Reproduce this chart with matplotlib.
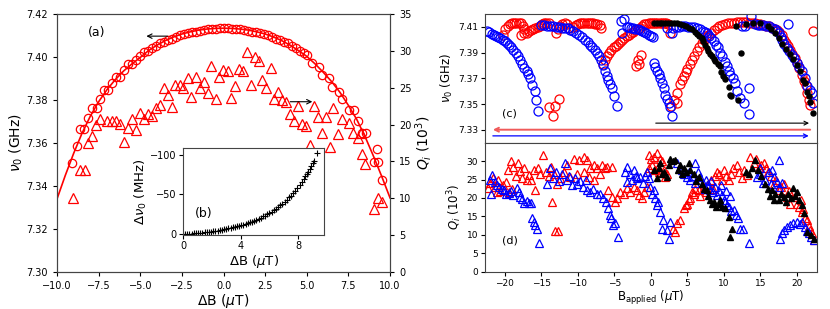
import numpy as np
import matplotlib
matplotlib.use('Agg')
import matplotlib.pyplot as plt

# ---- (a) resonance frequency (GHz) and Qi (10^3) vs delta B ----
a_circles = [(-9.08, 7.3506), (-8.82, 7.3586), (-8.62, 7.3664), (-8.36, 7.3664), (-8.12, 7.3718),
             (-7.88, 7.3764), (-7.62, 7.3764), (-7.42, 7.3805), (-7.18, 7.3847), (-6.96, 7.3847),
             (-6.72, 7.3880), (-6.48, 7.3908), (-6.22, 7.3908), (-5.98, 7.3940), (-5.76, 7.3966),
             (-5.52, 7.3966), (-5.27, 7.3986), (-5.01, 7.4005), (-4.76, 7.4025), (-4.52, 7.4030),
             (-4.28, 7.4044), (-4.04, 7.4050), (-3.80, 7.4063), (-3.56, 7.4070), (-3.32, 7.4080),
             (-3.08, 7.4086), (-2.84, 7.4092), (-2.60, 7.4100), (-2.36, 7.4105), (-2.12, 7.4110),
             (-1.88, 7.4115), (-1.64, 7.4118), (-1.40, 7.4122), (-1.16, 7.4126), (-0.92, 7.4128),
             (-0.68, 7.4130), (-0.44, 7.4132), (-0.20, 7.4133), (0.04, 7.4133), (0.28, 7.4133),
             (0.52, 7.4132), (0.76, 7.4130), (1.00, 7.4128), (1.24, 7.4126), (1.48, 7.4122),
             (1.72, 7.4118), (1.96, 7.4115), (2.20, 7.4110), (2.44, 7.4105), (2.68, 7.4100),
             (2.92, 7.4092), (3.16, 7.4086), (3.40, 7.4080), (3.64, 7.4070), (3.88, 7.4063),
             (4.12, 7.4050), (4.36, 7.4044), (4.60, 7.4030), (4.84, 7.4018), (5.02, 7.4009),
             (5.32, 7.3971), (5.72, 7.3955), (5.92, 7.3916), (6.36, 7.3901), (6.52, 7.3862),
             (6.92, 7.3839), (7.12, 7.3803), (7.52, 7.3753), (7.82, 7.3753), (8.08, 7.3704),
             (8.32, 7.3645), (8.56, 7.3645), (9.02, 7.3513), (9.22, 7.3571), (9.28, 7.3513),
             (9.52, 7.3428)]

a_fit_b = [-10, -9.5, -9, -8.5, -8, -7.5, -7, -6.5, -6, -5.5, -5, -4.5, -4, -3.5, -3, -2.5, -2,
           -1.5, -1, -0.5, 0, 0.5, 1, 1.5, 2, 2.5, 3, 3.5, 4, 4.5, 5, 5.5, 6, 6.5, 7, 7.5, 8,
           8.5, 9, 9.5, 10]
a_fit_nu = [7.3340, 7.3450, 7.3552, 7.3645, 7.3725, 7.3792, 7.3848, 7.3895, 7.3935, 7.3968,
            7.3998, 7.4030, 7.4055, 7.4076, 7.4093, 7.4107, 7.4117, 7.4125, 7.4130, 7.4133,
            7.4134, 7.4133, 7.4130, 7.4125, 7.4117, 7.4107, 7.4093, 7.4076, 7.4055, 7.4030,
            7.4003, 7.3968, 7.3928, 7.3885, 7.3835, 7.3775, 7.3710, 7.3630, 7.3540, 7.3445,
            7.3345]

a_triangles = [(-9.06, 10.05), (-8.64, 13.8), (-8.34, 13.8), (-8.14, 17.5), (-7.9, 18.4),
               (-7.64, 20.0), (-7.4, 20.7), (-7.0, 20.5), (-6.7, 20.5), (-6.44, 20.5),
               (-6.24, 20.1), (-5.96, 17.7), (-5.74, 19.6), (-5.5, 20.7), (-5.26, 19.2),
               (-5.0, 21.6), (-4.76, 20.7), (-4.54, 21.4), (-4.3, 21.1), (-4.06, 22.2),
               (-3.84, 22.6), (-3.6, 24.9), (-3.36, 24.0), (-3.1, 22.4), (-2.9, 25.4),
               (-2.64, 25.4), (-2.44, 24.9), (-2.16, 26.3), (-1.94, 23.8), (-1.66, 26.4),
               (-1.44, 24.9), (-1.2, 25.8), (-0.96, 24.3), (-0.76, 27.9), (-0.46, 23.5),
               (-0.26, 26.5), (-0.04, 27.4), (0.24, 27.3), (0.44, 23.6), (0.7, 25.2),
               (0.9, 27.6), (1.16, 27.2), (1.4, 29.8), (1.64, 25.4), (1.9, 29.1), (2.14, 28.6),
               (2.34, 26.0), (2.56, 24.9), (2.84, 27.7), (3.04, 23.5), (3.3, 24.4), (3.54, 23.3),
               (3.76, 23.0), (4.0, 21.4), (4.26, 20.5), (4.5, 22.5), (4.74, 20.1), (4.96, 19.8),
               (5.2, 17.2), (5.44, 22.5), (5.7, 21.0), (5.94, 18.8), (6.14, 21.0), (6.4, 17.0),
               (6.6, 22.2), (6.86, 18.7), (7.1, 20.7), (7.56, 20.2), (7.8, 18.8), (8.06, 18.2),
               (8.24, 18.9), (8.3, 16.0), (8.5, 14.6), (9.04, 8.5), (9.26, 10.1), (9.5, 9.5)]

# ---- (b) inset: frequency shift (MHz) vs |delta B|, two field branches ----
b_db = [0.0, 0.3, 0.6, 0.9, 1.2, 1.5, 1.8, 2.1, 2.4, 2.7, 3.0, 3.3, 3.6, 3.9, 4.2, 4.5, 4.8,
        5.1, 5.4, 5.7, 6.0, 6.3, 6.6, 6.9, 7.2, 7.5, 7.8, 8.1, 8.4, 8.6, 8.8, 8.9, 9.05, 9.1, 9.3]
b_dnu = [0, -0.1, -0.3, -0.7, -1.1, -1.7, -2.4, -3.2, -4.1, -5.1, -6.2, -7.4, -8.7, -10.1,
         -11.7, -13.5, -15.5, -17.7, -20.3, -23.1, -26.2, -29.7, -33.6, -38.0, -43.0, -48.5,
         -54.5, -61.5, -70.0, -76.0, -82.0, -86.0, -90.0, -93.0, -102.0]
b_db2 = [0.15, 0.45, 0.75, 1.05, 1.35, 1.65, 1.95, 2.25, 2.55, 2.85, 3.15, 3.45, 3.75, 4.05,
         4.35, 4.65, 4.95, 5.25, 5.55, 5.85, 6.15, 6.45, 6.75, 7.05, 7.35, 7.65, 7.95, 8.25,
         8.5, 8.7]
b_dnu2 = [0.0, -0.2, -0.5, -0.9, -1.4, -2.0, -2.8, -3.7, -4.7, -5.8, -7.0, -8.3, -9.7, -11.2,
          -12.9, -14.8, -16.9, -19.3, -22.0, -25.0, -28.3, -32.0, -36.2, -41.0, -46.2, -52.0,
          -58.5, -66.0, -73.0, -79.0]

# ---- (c) resonance frequency vs applied field, three sweeps ----
c_red = [(-20.2, 7.404), (-19.9, 7.408), (-19.6, 7.4105), (-19.3, 7.412), (-19.0, 7.413),
         (-18.7, 7.4132), (-18.4, 7.4132), (-18.1, 7.4131), (-17.8, 7.413), (-17.5, 7.411),
         (-17.4, 7.408),
         (-17.8, 7.4035), (-17.4, 7.405), (-17.0, 7.4055), (-16.7, 7.4065), (-16.4, 7.4075),
         (-16.1, 7.4085), (-15.8, 7.409), (-15.5, 7.41), (-15.2, 7.411), (-14.9, 7.412),
         (-14.6, 7.4128), (-14.3, 7.4131), (-14.0, 7.413),
         (-13.0, 7.405), (-12.7, 7.408), (-12.4, 7.411), (-12.1, 7.4125), (-11.8, 7.413),
         (-11.5, 7.4125), (-11.2, 7.4095),
         (-10.6, 7.410), (-10.3, 7.4115), (-10.0, 7.4125), (-9.7, 7.413), (-9.4, 7.4131),
         (-9.1, 7.4131), (-8.8, 7.4131), (-8.5, 7.4131), (-8.2, 7.413), (-7.9, 7.4128),
         (-7.6, 7.4125), (-7.3, 7.412), (-7.0, 7.4115), (-6.8, 7.409),
         (-6.5, 7.3808), (-6.3, 7.3845), (-6.0, 7.387), (-5.7, 7.390), (-5.4, 7.392),
         (-5.1, 7.394), (-4.8, 7.3955), (-4.5, 7.397), (-4.2, 7.3985), (-3.9, 7.400),
         (-3.6, 7.4015), (-3.3, 7.403), (-3.0, 7.404), (-2.7, 7.405), (-2.4, 7.406),
         (-2.1, 7.4075), (-1.8, 7.4085), (-1.5, 7.4095), (-1.2, 7.411), (-0.9, 7.412),
         (-0.6, 7.4125), (-0.3, 7.413), (0.0, 7.4131),
         (0.3, 7.4132), (0.6, 7.4132), (0.9, 7.4132), (1.2, 7.4132), (1.5, 7.4131),
         (1.8, 7.413), (2.1, 7.4128), (2.4, 7.4125), (2.67, 7.4053),
         (-2.0, 7.3795), (-1.75, 7.3845), (-1.55, 7.381), (-1.35, 7.3885),
         (-14.0, 7.348), (-13.4, 7.3405), (-13.1, 7.3488), (-12.6, 7.354),
         (2.75, 7.3487), (3.2, 7.3528), (3.55, 7.3508), (3.6, 7.3586), (4.0, 7.3658),
         (4.3, 7.369), (4.5, 7.3715), (4.8, 7.375), (5.0, 7.3773), (5.3, 7.381), (5.6, 7.384),
         (5.9, 7.387), (6.3, 7.391), (6.6, 7.394), (7.0, 7.3975), (7.3, 7.400), (7.6, 7.402),
         (7.9, 7.404), (8.2, 7.4055), (8.6, 7.4075), (9.0, 7.4092), (9.4, 7.4105),
         (9.8, 7.4115), (10.2, 7.4122), (10.6, 7.4127), (11.0, 7.413), (11.4, 7.4133),
         (11.8, 7.4135), (12.2, 7.4136), (12.6, 7.4135), (13.0, 7.4134), (13.4, 7.4132),
         (13.8, 7.413), (14.2, 7.4128), (14.6, 7.4125), (15.0, 7.412),
         (15.4, 7.4115), (15.8, 7.411), (16.2, 7.4105), (16.6, 7.4095), (17.0, 7.4085),
         (17.3, 7.4075), (17.6, 7.406), (17.9, 7.404), (18.2, 7.400), (18.5, 7.3975),
         (18.8, 7.395), (19.1, 7.392), (19.4, 7.389), (19.7, 7.3855), (20.0, 7.382),
         (20.3, 7.378), (20.7, 7.3728), (21.0, 7.368), (21.2, 7.365), (21.4, 7.3586),
         (21.6, 7.3534), (21.75, 7.3495), (22.27, 7.4066)]

c_blue = [(-22.45, 7.4066), (-22.1, 7.4058), (-21.8, 7.4048), (-21.5, 7.404), (-21.2, 7.403),
          (-20.9, 7.4022), (-20.6, 7.4014), (-20.3, 7.400), (-20.0, 7.399), (-19.7, 7.3975),
          (-19.4, 7.396), (-19.1, 7.394), (-18.8, 7.392), (-18.5, 7.3898), (-18.2, 7.3875),
          (-17.9, 7.3845), (-17.6, 7.381), (-17.3, 7.378), (-17.0, 7.3755), (-16.75, 7.373),
          (-16.5, 7.3703), (-16.2, 7.3651), (-15.9, 7.3599), (-15.7, 7.3528), (-15.5, 7.345),
          (-15.0, 7.4118), (-14.6, 7.4112), (-14.2, 7.4108), (-13.8, 7.4106), (-13.4, 7.4104),
          (-13.0, 7.410), (-12.6, 7.4098), (-12.2, 7.4095), (-11.8, 7.4092), (-11.4, 7.409),
          (-11.0, 7.4075), (-10.6, 7.4065), (-10.2, 7.4053), (-9.8, 7.4035), (-9.4, 7.402),
          (-9.0, 7.400), (-8.6, 7.398), (-8.3, 7.3962), (-8.0, 7.394), (-7.7, 7.392),
          (-7.4, 7.3897), (-7.1, 7.387), (-6.8, 7.384), (-6.55, 7.380), (-6.3, 7.3755),
          (-6.05, 7.372), (-5.8, 7.369), (-5.55, 7.3655), (-5.35, 7.3625), (-5.05, 7.3559),
          (-4.6, 7.3487),
          (-4.1, 7.4144), (-3.7, 7.4160), (-4.0, 7.405), (-3.3, 7.410), (-3.0, 7.4098),
          (-2.7, 7.4095), (-2.4, 7.409), (-2.1, 7.4085), (-1.8, 7.408), (-1.5, 7.4075),
          (-1.2, 7.407), (-0.9, 7.406), (-0.6, 7.405), (-0.3, 7.404), (0.0, 7.403),
          (0.3, 7.4025),
          (0.38, 7.382), (0.6, 7.3788), (0.85, 7.3755), (1.1, 7.373), (1.3, 7.3703),
          (1.55, 7.366), (1.75, 7.3625), (1.98, 7.3573), (2.2, 7.354), (2.44, 7.3508),
          (2.65, 7.348), (2.9, 7.341), (2.2, 7.409), (2.9, 7.4053),
          (3.1, 7.4092), (3.5, 7.4098), (3.9, 7.4102), (4.3, 7.4105), (4.7, 7.4105),
          (5.1, 7.4102), (5.5, 7.410), (5.9, 7.4096), (6.3, 7.4092), (6.7, 7.408),
          (7.1, 7.407), (7.4, 7.406), (7.7, 7.4053), (8.0, 7.403), (8.3, 7.401),
          (8.6, 7.3988), (8.9, 7.396), (9.2, 7.394), (9.5, 7.390), (9.75, 7.3871),
          (10.1, 7.383), (10.4, 7.3793), (10.65, 7.376), (10.9, 7.3728), (11.2, 7.370),
          (11.55, 7.3664), (11.85, 7.3599), (12.2, 7.3547), (12.7, 7.3508),
          (13.5, 7.3625), (13.4, 7.3425), (12.5, 7.4105), (12.95, 7.4105), (13.7, 7.4183),
          (14.3, 7.412), (14.7, 7.4118), (15.0, 7.4115), (15.4, 7.4112), (15.8, 7.4108),
          (16.2, 7.4105), (16.6, 7.4095), (17.0, 7.408), (17.3, 7.4065), (17.5, 7.4053),
          (17.8, 7.4025), (18.0, 7.4001), (18.3, 7.397), (18.6, 7.3936), (18.9, 7.391),
          (19.3, 7.3884), (19.6, 7.3855), (20.0, 7.382), (20.35, 7.379), (20.7, 7.3755),
          (21.1, 7.3703), (21.45, 7.3638), (21.75, 7.361), (22.05, 7.3586), (22.27, 7.3508),
          (18.85, 7.4122)]

c_black = [(0.4, 7.4128), (0.8, 7.413), (1.2, 7.4131), (1.6, 7.4132), (2.0, 7.4132),
           (2.4, 7.4132), (2.8, 7.4131), (3.2, 7.4131), (3.6, 7.413), (4.0, 7.4125),
           (4.4, 7.4118), (4.8, 7.4108), (5.2, 7.4095), (5.6, 7.408), (6.0, 7.406),
           (6.3, 7.4045), (6.6, 7.403), (7.0, 7.4014), (7.2, 7.399), (7.45, 7.3962),
           (7.7, 7.3935), (7.9, 7.391), (8.15, 7.389), (8.4, 7.3871), (8.6, 7.385),
           (8.82, 7.3832), (9.2, 7.381), (9.5, 7.3793), (9.64, 7.3747), (9.9, 7.372),
           (10.2, 7.3695), (10.65, 7.3633), (10.88, 7.3573), (11.0, 7.356), (12.0, 7.3534),
           (12.3, 7.3897), (11.6, 7.4105), (13.0, 7.4125), (14.0, 7.4132), (15.0, 7.413),
           (16.0, 7.411), (16.5, 7.408), (17.0, 7.405), (17.5, 7.401), (18.0, 7.397),
           (18.5, 7.393), (19.0, 7.389), (19.5, 7.385), (20.0, 7.3805), (20.45, 7.3754),
           (20.9, 7.369), (21.1, 7.366), (21.36, 7.3592), (21.6, 7.356), (21.8, 7.352),
           (22.27, 7.343)]

# ---- (d) Qi (10^3) vs applied field ----
d_red = [(-22.3, 22.6), (-22.0, 24.0), (-21.6, 25.3), (-21.3, 23.0), (-20.9, 24.8), (-20.6, 22.0),
         (-20.2, 23.6), (-19.8, 24.4), (-19.4, 21.5), (-21.0, 21.5), (-19.0, 22.5),
         (-19.5, 27.5), (-19.2, 30.0), (-18.8, 28.5), (-18.5, 26.0), (-18.2, 29.6), (-17.9, 27.3),
         (-17.6, 25.5), (-17.3, 28.2), (-17.0, 24.8), (-16.7, 26.2), (-16.4, 25.0), (-16.0, 27.5),
         (-15.85, 22.1), (-15.5, 28.0), (-15.2, 26.5), (-14.7, 31.6), (-14.4, 27.0), (-14.0, 26.0),
         (-13.6, 28.5), (-13.5, 19.0), (-13.3, 26.6), (-12.8, 23.9), (-12.4, 25.3), (-11.9, 27.1),
         (-11.47, 28.9), (-11.0, 25.7), (-10.56, 30.7), (-10.1, 26.6), (-9.87, 30.3), (-9.2, 31.2),
         (-9.2, 27.1), (-8.73, 30.3), (-8.5, 25.7), (-8.28, 28.0), (-7.8, 28.9), (-7.8, 24.8),
         (-7.37, 28.0), (-6.9, 26.6), (-6.68, 28.9), (-6.2, 28.0), (-6.0, 28.5), (-5.3, 28.5),
         (-13.1, 11.1), (-12.65, 11.1),
         (-5.8, 22.1), (-5.3, 20.3), (-4.86, 19.0), (-4.6, 19.9), (-4.17, 21.7), (-3.7, 21.2),
         (-3.26, 22.6), (-2.8, 21.7), (-2.35, 23.0), (-1.9, 22.1), (-1.66, 20.8), (-1.2, 19.9),
         (-0.98, 21.7), (-0.5, 23.0),
         (-0.3, 31.6), (0.0, 30.5), (0.4, 31.2), (0.85, 32.1), (1.3, 30.7), (-0.2, 28.0),
         (0.2, 29.0), (0.6, 27.5), (1.0, 28.5), (1.4, 27.0), (1.76, 27.6), (2.0, 25.7),
         (1.6, 30.0), (-0.5, 27.0), (2.2, 26.6), (1.07, 27.1),
         (3.1, 11.7), (3.35, 10.8), (3.58, 13.1), (4.04, 14.0),
         (4.5, 17.2), (4.8, 18.0), (4.95, 18.5), (5.2, 19.5), (5.4, 19.9), (5.6, 21.5),
         (5.86, 21.2), (6.1, 22.5), (6.55, 22.1), (6.8, 20.5), (7.23, 23.0), (7.5, 21.5),
         (7.9, 23.9), (8.2, 25.0), (8.5, 22.5), (8.8, 26.0), (9.05, 27.1), (9.4, 26.5),
         (9.7, 25.0), (10.0, 27.5), (10.3, 26.0), (10.65, 24.8), (11.0, 26.5), (11.3, 28.0),
         (11.8, 28.9), (12.1, 27.0), (12.5, 25.5), (12.8, 27.5), (13.2, 26.2),
         (13.6, 31.2), (14.07, 29.4), (14.4, 30.5), (14.75, 28.0), (15.1, 29.0), (15.44, 29.4),
         (15.8, 28.0), (16.1, 27.0), (16.4, 26.0),
         (16.8, 23.9), (17.2, 25.0), (17.5, 22.1), (17.8, 23.0), (18.2, 23.9), (18.6, 20.3),
         (18.9, 22.0), (19.1, 18.5), (19.5, 21.5), (19.8, 20.3), (20.0, 18.5), (20.3, 17.6),
         (20.5, 19.5), (20.7, 16.3), (20.9, 17.0), (21.05, 14.5), (21.4, 14.0), (21.6, 12.5),
         (21.8, 11.3), (22.1, 10.4), (22.3, 8.6)]

d_blue = [(-22.0, 24.8), (-21.7, 26.2), (-21.3, 24.4), (-21.9, 21.2), (-21.0, 23.5), (-20.8, 23.0),
          (-20.4, 22.5), (-20.1, 22.1), (-19.8, 21.0), (-19.45, 21.4), (-19.1, 22.0), (-18.8, 20.8),
          (-18.3, 22.6), (-18.0, 21.5), (-17.85, 20.3), (-17.6, 19.6), (-17.3, 18.7), (-17.0, 19.2),
          (-16.7, 18.7), (-16.4, 18.7),
          (-16.3, 14.5), (-16.0, 13.6), (-15.8, 12.6), (-15.6, 11.5), (-15.35, 7.7),
          (-14.2, 23.9), (-13.75, 28.0), (-13.4, 25.5), (-13.0, 27.0), (-12.6, 24.5), (-12.2, 26.5),
          (-11.8, 29.4), (-11.5, 25.0), (-11.2, 26.0), (-10.8, 23.5), (-10.4, 25.5), (-10.1, 23.9),
          (-9.7, 24.5), (-9.3, 23.0), (-8.9, 25.0), (-8.7, 22.1), (-8.3, 21.5), (-7.9, 22.5),
          (-7.4, 21.2), (-7.0, 21.0), (-6.6, 20.0), (-6.1, 19.0), (-5.8, 17.2), (-5.6, 15.5),
          (-5.45, 14.5), (-5.13, 12.6), (-4.9, 13.1), (-4.45, 9.5),
          (-3.5, 27.0), (-3.26, 28.5), (-2.9, 26.5), (-2.6, 25.0), (-2.35, 27.6), (-2.0, 26.0),
          (-1.9, 25.3), (-1.44, 25.7), (-1.1, 24.0), (-0.8, 26.0), (-0.5, 27.1), (-0.2, 25.5),
          (-3.3, 24.4),
          (-0.07, 23.0), (0.1, 21.2), (0.39, 22.1), (0.58, 19.9), (0.8, 18.1), (1.0, 19.0),
          (1.26, 16.3), (1.5, 11.7), (1.72, 14.0), (2.2, 11.3), (2.44, 9.0), (2.67, 13.6),
          (3.58, 29.4), (4.0, 28.5), (4.27, 27.6), (4.6, 26.5), (4.95, 25.7), (5.2, 27.0),
          (5.4, 24.8), (5.7, 26.0), (6.09, 29.4), (6.4, 27.0), (6.77, 25.7), (7.1, 24.0),
          (7.4, 22.5), (7.7, 23.5), (8.14, 22.1), (8.5, 21.5), (8.8, 23.0), (9.05, 20.8),
          (9.4, 22.0), (9.74, 20.8), (10.0, 19.5), (10.2, 19.0), (10.5, 18.0), (10.65, 17.6),
          (11.0, 16.5), (11.33, 16.7), (11.7, 15.5), (12.0, 14.5), (12.25, 11.7), (12.6, 11.7),
          (13.4, 7.7), (6.0, 24.0), (7.5, 25.0), (8.3, 24.5), (9.6, 23.5), (10.3, 22.0),
          (10.9, 20.5),
          (14.52, 25.7), (14.98, 26.6), (15.3, 24.0), (15.67, 24.8), (16.13, 27.1), (16.6, 27.6),
          (16.8, 25.7), (17.3, 24.4), (17.5, 30.3), (16.4, 23.9), (15.0, 28.0), (17.6, 23.0),
          (18.0, 24.0),
          (17.7, 9.0), (18.0, 10.5), (18.2, 11.3), (18.6, 12.0), (19.1, 12.6), (19.5, 13.2),
          (20.0, 13.6), (20.4, 13.0), (20.7, 13.6), (21.1, 12.2), (21.4, 11.0), (21.6, 10.4),
          (22.0, 9.5), (22.3, 8.6)]

d_black = [(0.5, 27.5), (0.85, 25.3), (1.1, 28.0), (1.3, 29.4), (1.5, 26.5), (1.8, 27.0),
           (2.2, 25.7), (2.45, 29.0), (2.67, 30.7), (3.0, 30.0), (3.35, 30.3), (3.7, 27.5),
           (4.0, 28.9), (4.3, 26.5), (4.5, 28.0), (4.8, 27.0), (5.2, 29.4), (5.4, 27.5),
           (5.85, 26.6), (6.2, 24.5), (6.55, 25.7), (7.0, 23.9), (7.3, 22.5), (7.7, 22.1),
           (7.9, 20.5), (8.14, 19.4), (8.4, 18.5), (8.6, 19.0), (8.9, 17.5), (9.28, 18.5),
           (9.5, 19.5), (9.74, 17.6), (10.2, 17.2), (10.65, 14.9), (11.1, 11.7), (10.88, 9.5),
           (12.98, 27.1), (13.4, 26.6), (13.9, 28.0), (14.3, 30.3), (14.7, 27.5), (15.1, 26.0),
           (15.67, 23.9), (16.0, 22.5), (16.3, 20.5), (16.6, 22.1), (17.0, 21.2), (16.8, 19.4),
           (17.5, 19.4), (17.8, 21.0), (18.2, 20.3), (18.5, 19.0), (18.8, 21.0), (19.2, 20.0),
           (19.5, 22.6), (19.8, 20.5), (20.0, 21.5), (20.3, 19.4), (20.7, 18.1), (21.0, 15.8),
           (21.4, 10.8), (21.9, 9.9), (22.3, 9.0)]


def xy(pairs):
    arr = np.array(pairs)
    return arr[:, 0], arr[:, 1]


SPINE = '#444444'
RED_ARROW = '#f05a5a'

fig = plt.figure(figsize=(8.3, 3.09), dpi=100)

# panel (a)
ax_a = fig.add_axes([0.0687, 0.1197, 0.4012, 0.835])
ax_a2 = ax_a.twinx()
bx, by = xy(a_circles)
ax_a.plot(a_fit_b, a_fit_nu, '-', color='red', lw=1.2, zorder=2)
ax_a.plot(bx, by, 'o', mfc='none', mec='red', ms=6, mew=0.9, zorder=3)
tx, tq = xy(a_triangles)
ax_a2.plot(tx, tq, '^', mfc='none', mec='red', ms=6.5, mew=0.9)
ax_a.set_xlim(-10, 10)
ax_a.set_ylim(7.30, 7.42)
ax_a2.set_ylim(0, 35)
ax_a.set_xticks(np.arange(-10, 10.01, 2.5))
ax_a.set_yticks(np.arange(7.30, 7.4201, 0.02))
ax_a2.set_yticks(np.arange(0, 36, 5))
ax_a.set_xlabel(r'$\Delta$B ($\mu$T)', fontsize=10, labelpad=1)
ax_a.set_ylabel(r'$\nu_0$ (GHz)', fontsize=10, labelpad=1)
ax_a2.set_ylabel(r'$Q_i$ ($10^3$)', fontsize=10, labelpad=1)
ax_a.text(0.12, 0.93, '(a)', transform=ax_a.transAxes, fontsize=9, va='center', ha='center')
ax_a.annotate('', xy=(-4.8, 7.4097), xytext=(-3.2, 7.4097),
              arrowprops=dict(arrowstyle='->', color='black', lw=0.8, mutation_scale=8))
ax_a2.annotate('', xy=(5.5, 23.1), xytext=(3.84, 23.1),
               arrowprops=dict(arrowstyle='->', color='black', lw=0.8, mutation_scale=8))
for ax in (ax_a, ax_a2):
    ax.tick_params(labelsize=7, length=3, width=0.8, colors='black')
    for s in ax.spines.values():
        s.set_color(SPINE)

# inset (b)
ax_b = fig.add_axes([0.2205, 0.2395, 0.170, 0.2816])
ax_b.plot(b_db, b_dnu, '+', color='black', ms=5, mew=0.8)
ax_b.plot(b_db2, b_dnu2, '+', color='black', ms=5, mew=0.8)
ax_b.set_xlim(0, 9.8)
ax_b.set_ylim(1.5, -109)
ax_b.set_xticks([0, 4, 8])
ax_b.set_yticks([0, -50, -100])
ax_b.set_xlabel(r'$\Delta$B ($\mu$T)', fontsize=9.5, labelpad=1)
ax_b.set_ylabel(r'$\Delta\nu_0$ (MHz)', fontsize=9.5, labelpad=1)
ax_b.text(0.15, 0.25, '(b)', transform=ax_b.transAxes, fontsize=9, va='center', ha='center')
ax_b.tick_params(labelsize=7, length=3, width=0.8, pad=1.5)
for s in ax_b.spines.values():
    s.set_color(SPINE)

# panel (c)
ax_c = fig.add_axes([0.5843, 0.5382, 0.4, 0.4165])
ax_d = fig.add_axes([0.5843, 0.1207, 0.4, 0.4175], sharex=ax_c)

rx, ry = xy(c_red)
ux, uy = xy(c_blue)
kx, ky = xy(c_black)
ax_c.plot(rx, ry, 'o', mfc='none', mec='red', ms=6.5, mew=0.9)
ax_c.plot(ux, uy, 'o', mfc='none', mec='blue', ms=6.5, mew=0.9)
ax_c.plot(kx, ky, 'o', color='black', ms=3.6)
ax_c.annotate('', xy=(22.05, 7.3352), xytext=(0.3, 7.3352),
              arrowprops=dict(arrowstyle='->', color='black', lw=0.8, mutation_scale=7))
ax_c.annotate('', xy=(-22.0, 7.3301), xytext=(22.2, 7.3301),
              arrowprops=dict(arrowstyle='->', color=RED_ARROW, lw=1.4, mutation_scale=7))
ax_c.annotate('', xy=(22.0, 7.3253), xytext=(-22.0, 7.3253),
              arrowprops=dict(arrowstyle='->', color='blue', lw=0.9, mutation_scale=7))
ax_c.set_ylim(7.32, 7.42)
ax_c.set_yticks([7.33, 7.35, 7.37, 7.39, 7.41])
ax_c.set_ylabel(r'$\nu_0$ (GHz)', fontsize=8.5, labelpad=2)
ax_c.text(0.075, 0.23, '(c)', transform=ax_c.transAxes, fontsize=8, va='center', ha='center')
ax_c.tick_params(labelbottom=False, bottom=False)

# panel (d)
rx, rq = xy(d_red)
ux, uq = xy(d_blue)
kx, kq = xy(d_black)
ax_d.plot(rx, rq, '^', mfc='none', mec='red', ms=6, mew=0.9)
ax_d.plot(ux, uq, '^', mfc='none', mec='blue', ms=6, mew=0.9)
ax_d.plot(kx, kq, '^', color='black', ms=4)
ax_d.set_xlim(-22.7, 22.75)
ax_d.set_ylim(0, 35)
ax_d.set_xticks(np.arange(-20, 21, 5))
ax_d.set_yticks(np.arange(0, 31, 5))
ax_d.set_xlabel(r'B$_{\rm applied}$ ($\mu$T)', fontsize=8.5, labelpad=1)
ax_d.set_ylabel(r'$Q_i$ ($10^3$)', fontsize=8.5, labelpad=2)
ax_d.text(0.075, 0.245, '(d)', transform=ax_d.transAxes, fontsize=8, va='center', ha='center')

for ax in (ax_c, ax_d):
    ax.tick_params(labelsize=6.5, length=3, width=0.8, pad=2)
    for s in ax.spines.values():
        s.set_color(SPINE)

fig.savefig('out.png', dpi=100)
